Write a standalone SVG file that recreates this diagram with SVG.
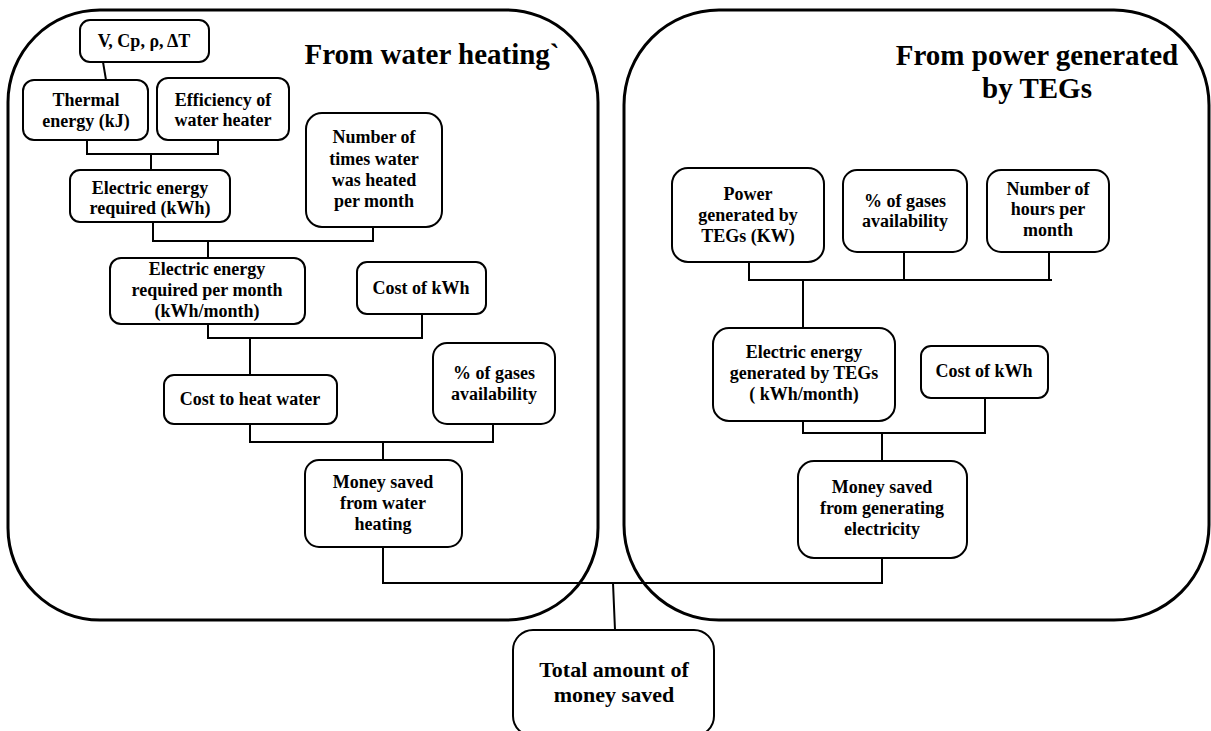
<svg xmlns="http://www.w3.org/2000/svg" width="1211" height="731" viewBox="0 0 1211 731">
<style>
.cont{fill:none;stroke:#000;stroke-width:3}
.box{fill:#fff;stroke:#000;stroke-width:2}
.t{font-family:"Liberation Serif","Times New Roman",serif;font-weight:bold;font-size:18px;fill:#000;text-anchor:middle}
.title{font-family:"Liberation Serif","Times New Roman",serif;font-weight:bold;font-size:29px;fill:#000;text-anchor:middle}
.big{font-size:22px}
.conn path{fill:none;stroke:#000;stroke-width:2}
</style>
<rect width="1211" height="731" fill="#fff"/>
<g id="group-water">
<rect class="cont" x="8" y="10" width="590" height="610" rx="92" ry="92"/>
<text class="title" x="432" y="64">From water heating`</text>
</g>
<g id="group-teg">
<rect class="cont" x="624" y="10" width="585" height="610" rx="95" ry="95"/>
<text class="title" x="1037" y="65">From power generated</text>
<text class="title" x="1037" y="98">by TEGs</text>
</g>
<g id="connectors" class="conn">
<path d="M103,62 L106,80"/>
<path d="M87,140 V154 H218 V140 M151,154 V170"/>
<path d="M153,222 V241 H373 V227 M208,241 V258"/>
<path d="M208,324 V338 H422 V314 M250,338 V375"/>
<path d="M250,424 V442 H493 V424 M383,442 V460"/>
<path d="M383,547 V583 H882 V558 M613,583 L615,630"/>
<path d="M749,262 V280 H1052 M904,252 V280 M1049,252 V280 M803,280 V328"/>
<path d="M803,421 V433 H985 V398 M882,433 V461"/>
</g>
<g id="n-vcp"><rect class="box" x="80" y="20" width="129" height="42" rx="10"/><text class="t" x="144" y="47">V, Cp, ρ, ΔT</text></g>
<g id="n-thermal"><rect class="box" x="23" y="80" width="125" height="60" rx="11"/><text class="t" x="86" y="106">Thermal</text><text class="t" x="86" y="127">energy (kJ)</text></g>
<g id="n-eff"><rect class="box" x="157" y="78" width="132" height="62" rx="11"/><text class="t" x="223" y="106">Efficiency of</text><text class="t" x="223" y="126">water heater</text></g>
<g id="n-elec"><rect class="box" x="70" y="170" width="160" height="52" rx="10"/><text class="t" x="150" y="194">Electric energy</text><text class="t" x="150" y="214">required (kWh)</text></g>
<g id="n-times"><rect class="box" x="306" y="113" width="136" height="114" rx="16"/><text class="t" x="374" y="143">Number of</text><text class="t" x="374" y="165">times water</text><text class="t" x="374" y="186">was heated</text><text class="t" x="374" y="207">per month</text></g>
<g id="n-elecmonth"><rect class="box" x="110" y="258" width="195" height="66" rx="11"/><text class="t" x="207" y="275">Electric energy</text><text class="t" x="207" y="296">required per month</text><text class="t" x="207" y="317">(kWh/month)</text></g>
<g id="n-cost1"><rect class="box" x="357" y="262" width="129" height="52" rx="10"/><text class="t" x="421" y="294">Cost of kWh</text></g>
<g id="n-costheat"><rect class="box" x="164" y="375" width="173" height="49" rx="10"/><text class="t" x="250" y="405">Cost to heat water</text></g>
<g id="n-gas1"><rect class="box" x="433" y="343" width="122" height="81" rx="14"/><text class="t" x="494" y="379">% of gases</text><text class="t" x="494" y="400">availability</text></g>
<g id="n-money1"><rect class="box" x="305" y="460" width="157" height="87" rx="14"/><text class="t" x="383" y="488">Money saved</text><text class="t" x="383" y="509">from water</text><text class="t" x="383" y="530">heating</text></g>
<g id="n-power"><rect class="box" x="672" y="168" width="152" height="94" rx="16"/><text class="t" x="748" y="200">Power</text><text class="t" x="748" y="221">generated by</text><text class="t" x="748" y="242">TEGs (KW)</text></g>
<g id="n-gas2"><rect class="box" x="843" y="170" width="124" height="82" rx="14"/><text class="t" x="905" y="207">% of gases</text><text class="t" x="905" y="227">availability</text></g>
<g id="n-hours"><rect class="box" x="987" y="170" width="122" height="82" rx="14"/><text class="t" x="1048" y="195">Number of</text><text class="t" x="1048" y="215">hours per</text><text class="t" x="1048" y="236">month</text></g>
<g id="n-elec2"><rect class="box" x="713" y="328" width="182" height="93" rx="16"/><text class="t" x="804" y="358">Electric energy</text><text class="t" x="804" y="379">generated by TEGs</text><text class="t" x="804" y="400">( kWh/month)</text></g>
<g id="n-cost2"><rect class="box" x="921" y="346" width="127" height="52" rx="10"/><text class="t" x="984" y="377">Cost of kWh</text></g>
<g id="n-money2"><rect class="box" x="798" y="461" width="169" height="97" rx="16"/><text class="t" x="882" y="493">Money saved</text><text class="t" x="882" y="514">from generating</text><text class="t" x="882" y="535">electricity</text></g>
<g id="n-total"><rect class="box" x="513" y="630" width="201" height="106" rx="20"/><text class="t big" x="614" y="677">Total amount of</text><text class="t big" x="614" y="702">money saved</text></g>
</svg>
